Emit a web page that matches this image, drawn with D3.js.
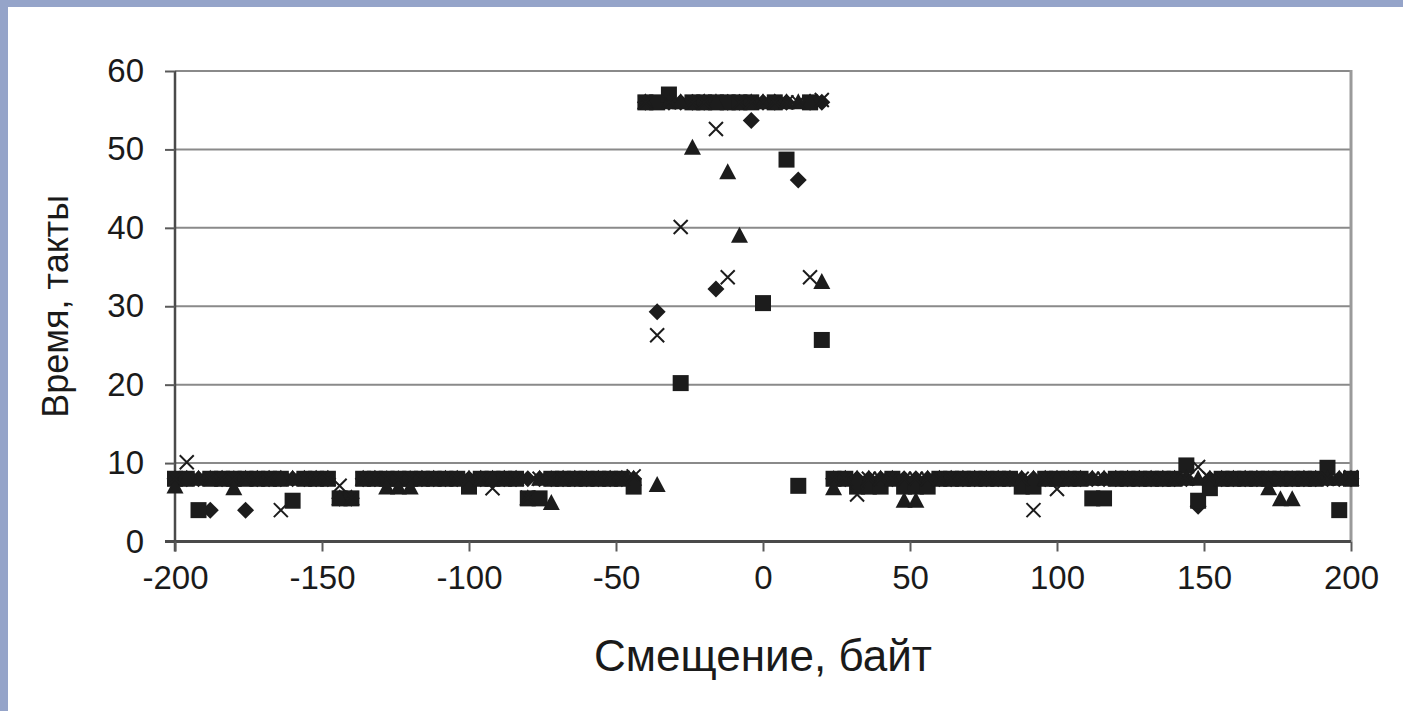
<!DOCTYPE html>
<html>
<head>
<meta charset="utf-8">
<script src="https://cdn.jsdelivr.net/npm/d3@7"></script>
<style>
  html, body { margin: 0; padding: 0; background: #ffffff; }
  svg { display: block; }
  text { font-family: "Liberation Sans", Arial, sans-serif; fill: #1a1a1a; }
</style>
</head>
<body>
<svg id="chart" width="1403" height="711"></svg>
<script>
// ---- data ----
const offsets = [
  -200,-196,-192,-188,-184,-180,-176,-172,-168,-164,
  -160,-156,-152,-148,-144,-140,-136,-132,-128,-124,
  -120,-116,-112,-108,-104,-100,-96,-92,-88,-84,
  -80,-76,-72,-68,-64,-60,-56,-52,-48,-44,
  -40,-36,-32,-28,-24,-20,-16,-12,-8,-4,
  0,4,8,12,16,20,24,28,32,36,
  40,44,48,52,56,60,64,68,72,76,
  80,84,88,92,96,100,104,108,112,116,
  120,124,128,132,136,140,144,148,152,156,
  160,164,168,172,176,180,184,188,192,196,
  200];

const diamondValues = [
  8,8,8,4,8,8,4,8,8,8,
  8,8,8,8,5.5,5.5,8,8,8,8,
  8,8,8,8,8,8,8,8,8,8,
  8,8,8,8,8,8,8,8,8,8,
  56,29.3,56,56,56,56,32.2,56,56,53.7,
  56,56,56,46.1,56,56,8,8,8,8,
  8,8,8,8,8,8,8,8,8,8,
  8,8,8,8,8,8,8,8,8,8,
  8,8,8,8,8,8,8,4.5,8,8,
  8,8,8,8,8,8,8,8,8,8,
  8];

const squareValues = [
  8,8,4,8,8,8,8,8,8,8,
  5.2,8,8,8,5.5,5.5,8,8,8,8,
  8,8,8,8,8,7,8,8,8,8,
  5.5,5.5,8,8,8,8,8,8,8,7,
  56,56,57,20.2,56,56,56,56,56,56,
  30.4,56,48.7,7.1,56,25.7,8,8,7,7,
  7,8,7,7,7,8,8,8,8,8,
  8,8,7,7,8,8,8,8,5.5,5.5,
  8,8,8,8,8,8,9.7,5.2,6.8,8,
  8,8,8,8,8,8,8,8,9.4,4,
  8];

const triangleValues = [
  7,8,8,8,8,6.8,8,8,8,8,
  8,8,8,8,5.5,5.5,8,8,6.9,6.9,
  6.9,8,8,8,8,8,8,8,8,8,
  5.5,8,4.9,8,8,8,8,8,8,8,
  56,7.2,56,56,50.2,56,56,47.1,39,56,
  56,56,56,56,56,33.1,6.8,8,8,8,
  8,8,5.2,5.2,8,8,8,8,8,8,
  8,8,8,8,8,8,8,8,8,8,
  8,8,8,8,8,8,8,8,8,8,
  8,8,8,6.8,5.4,5.4,8,8,8,8,
  8];

const crossValues = [
  8,10.1,8,8,8,8,8,8,8,4,
  8,8,8,8,7.1,5.5,8,8,8,8,
  8,8,8,8,8,8,8,6.8,8,8,
  5.6,8,8,8,8,8,8,8,8,8.3,
  56,26.3,56,40.1,56,56,52.6,33.7,56,56,
  56,56,56,56,33.7,56.3,8,8,6,8,
  8,8,8,8,8,8,8,8,8,8,
  8,8,8,4,8,6.7,8,8,8,8,
  8,8,8,8,8,8,8,9.5,8,8,
  8,8,8,8,8,8,8,8,8,8,
  8.2];

const xTicks = [-200,-150,-100,-50,0,50,100,150,200];
const yTicks = [0,10,20,30,40,50,60];
const xTitle = "Смещение, байт";
const yTitle = "Время, такты";

// ---- layout ----
const svg = d3.select("#chart");
const W = 1403, H = 711;
const pL = 175, pR = 1351, pT = 71, pB = 541.5;
const ink = "#1c1c1c";

svg.append("rect").attr("x",0).attr("y",0).attr("width",W).attr("height",H).attr("fill","#ffffff");
// frame bands
svg.append("rect").attr("x",0).attr("y",0).attr("width",W).attr("height",7).attr("fill","#95a4c9");
svg.append("rect").attr("x",0).attr("y",0).attr("width",8).attr("height",H).attr("fill","#95a4c9");

const x = d3.scaleLinear().domain([-200,200]).range([pL,pR]);
const y = d3.scaleLinear().domain([0,60]).range([pB,pT]);

// gridlines
svg.append("g").selectAll("line").data(yTicks.filter(d=>d>0)).join("line")
  .attr("x1",pL).attr("x2",pR)
  .attr("y1",d=>y(d)).attr("y2",d=>y(d))
  .attr("stroke","#8a8a8a").attr("stroke-width",2);

// right border
svg.append("line").attr("x1",pR).attr("x2",pR).attr("y1",pT-1).attr("y2",pB)
  .attr("stroke","#9a9a9a").attr("stroke-width",3);

const fmt = d => String(d);

// y axis
const yAxis = d3.axisLeft(y).tickValues(yTicks).tickSize(10).tickPadding(21).tickFormat(fmt);
const gy = svg.append("g").attr("transform",`translate(${pL},0)`).call(yAxis);
gy.select(".domain").attr("stroke","#4a4a4a").attr("stroke-width",2.5)
  .attr("d",`M0,${pT}V${pB+10}`);
gy.selectAll(".tick line").attr("stroke","#5a5a5a").attr("stroke-width",2);
gy.selectAll(".tick text").attr("font-size",33).attr("fill","#1a1a1a")
  .attr("font-family","'Liberation Sans', Arial, sans-serif");

// x axis
const xAxis = d3.axisBottom(x).tickValues(xTicks).tickSize(10).tickPadding(14).tickFormat(fmt);
const gx = svg.append("g").attr("transform",`translate(0,${pB})`).call(xAxis);
gx.select(".domain").attr("stroke","#4a4a4a").attr("stroke-width",3)
  .attr("d",`M${pL-10},0H${pR}`);
gx.selectAll(".tick line").attr("stroke","#5a5a5a").attr("stroke-width",2);
gx.selectAll(".tick text").attr("font-size",33).attr("fill","#1a1a1a")
  .attr("font-family","'Liberation Sans', Arial, sans-serif");

// titles
svg.append("text").attr("x",(pL+pR)/2).attr("y",671).attr("text-anchor","middle")
  .attr("font-size",44).text(xTitle);
svg.append("text").attr("transform",`translate(68,${(pT+pB)/2}) rotate(-90)`)
  .attr("text-anchor","middle").attr("font-size",36).text(yTitle);

// markers
const pts = vals => offsets.map((o,i)=>({o, v: vals[i]}));
const g = svg.append("g");

// diamonds
g.append("g").selectAll("path").data(pts(diamondValues)).join("path")
  .attr("d", d=>{const cx=x(d.o), cy=y(d.v), r=8.5; return `M${cx},${cy-r}L${cx+r},${cy}L${cx},${cy+r}L${cx-r},${cy}Z`;})
  .attr("fill",ink);
// squares
g.append("g").selectAll("rect").data(pts(squareValues)).join("rect")
  .attr("x",d=>x(d.o)-8).attr("y",d=>y(d.v)-8).attr("width",16).attr("height",16)
  .attr("fill",ink);
// triangles
g.append("g").selectAll("path").data(pts(triangleValues)).join("path")
  .attr("d", d=>{const cx=x(d.o), cy=y(d.v); return `M${cx},${cy-9}L${cx+8.5},${cy+7}L${cx-8.5},${cy+7}Z`;})
  .attr("fill",ink);
// crosses
g.append("g").selectAll("path").data(pts(crossValues)).join("path")
  .attr("d", d=>{const cx=x(d.o), cy=y(d.v), r=7; return `M${cx-r},${cy-r}L${cx+r},${cy+r}M${cx+r},${cy-r}L${cx-r},${cy+r}`;})
  .attr("stroke",ink).attr("stroke-width",2).attr("fill","none");
</script>
</body>
</html>
